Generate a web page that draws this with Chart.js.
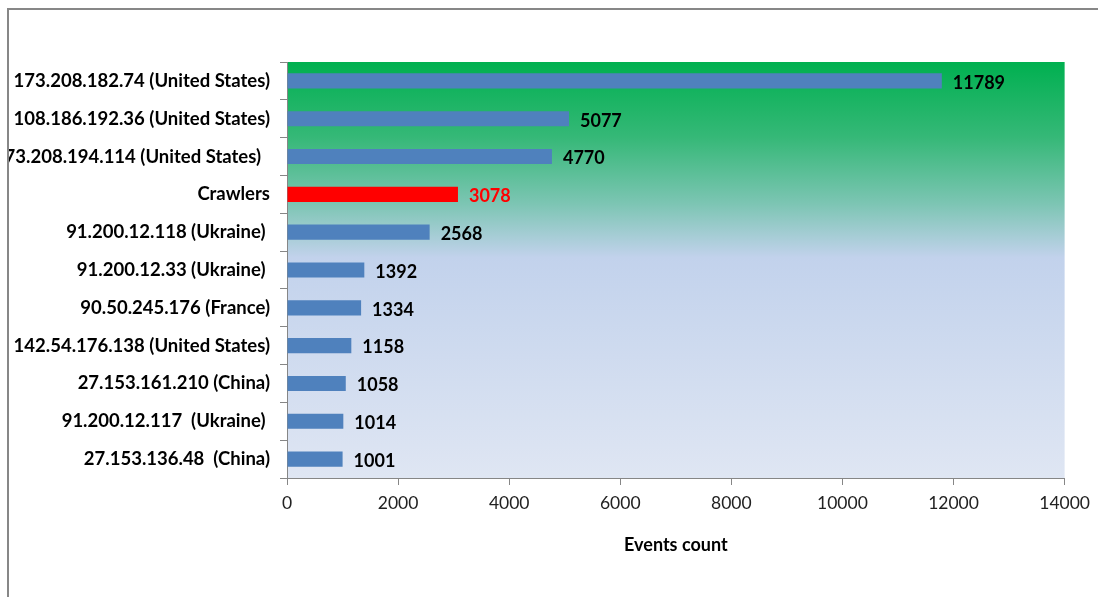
<!DOCTYPE html>
<html>
<head>
<meta charset="utf-8">
<script src="https://cdn.jsdelivr.net/npm/chart.js@4"></script>
<style>
  html, body { margin: 0; padding: 0; background: #fff; overflow: hidden; }
  #frame { position: absolute; left: 7px; top: 8px; width: 1200px; height: 700px;
           border-top: 2px solid #878787; border-left: 2px solid #878787; }
  #wrap { position: absolute; left: 9px; top: 11px; width: 1089px; height: 586px; }
</style>
</head>
<body>
<div id="frame"></div>
<div id="wrap"><canvas id="chart"></canvas></div>
<script>
const categories = [
  "173.208.182.74 (United States)",
  "108.186.192.36 (United States)",
  "173.208.194.114 (United States)  ",
  "Crawlers",
  "91.200.12.118 (Ukraine) ",
  "91.200.12.33 (Ukraine) ",
  "90.50.245.176 (France)",
  "142.54.176.138 (United States)",
  "27.153.161.210 (China)",
  "91.200.12.117  (Ukraine) ",
  "27.153.136.48  (China)"
];
const eventCounts = [11789, 5077, 4770, 3078, 2568, 1392, 1334, 1158, 1058, 1014, 1001];
const barColors = ["#4f81bd", "#4f81bd", "#4f81bd", "#ff0000", "#4f81bd", "#4f81bd",
                   "#4f81bd", "#4f81bd", "#4f81bd", "#4f81bd", "#4f81bd"];
const labelColors = ["#000", "#000", "#000", "#ff0000", "#000", "#000",
                     "#000", "#000", "#000", "#000", "#000"];

// gradient fill behind the plot area
const bgPlugin = {
  id: "bg",
  beforeDraw(chart) {
    const { ctx, chartArea: a } = chart;
    const g = ctx.createLinearGradient(0, a.top, 0, a.bottom);
    g.addColorStop(0, "#00b050");
    g.addColorStop(0.18, "#35b877");
    g.addColorStop(0.34, "#7cc5b3");
    g.addColorStop(0.47, "#c2d2ec");
    g.addColorStop(1, "#dfe6f3");
    ctx.save();
    ctx.fillStyle = g;
    ctx.fillRect(a.left, a.top, a.right - a.left, a.bottom - a.top);
    ctx.restore();
  }
};

// value labels at the end of each bar
const valuePlugin = {
  id: "values",
  afterDatasetsDraw(chart) {
    const ctx = chart.ctx;
    const meta = chart.getDatasetMeta(0);
    ctx.save();
    ctx.font = "bold 18px Lato";
    ctx.textBaseline = "middle";
    ctx.textAlign = "left";
    meta.data.forEach((bar, i) => {
      ctx.fillStyle = labelColors[i];
      ctx.fillText(eventCounts[i], bar.x + 11, bar.y + 2);
    });
    ctx.restore();
  }
};

new Chart(document.getElementById("chart"), {
  type: "bar",
  data: {
    labels: categories,
    datasets: [{
      data: eventCounts,
      backgroundColor: barColors,
      borderWidth: 0,
      barPercentage: 0.4,
      categoryPercentage: 1
    }]
  },
  options: {
    indexAxis: "y",
    responsive: true,
    maintainAspectRatio: false,
    animation: false,
    layout: { padding: { top: 51, right: 33, left: 0, bottom: 0 } },
    plugins: { legend: { display: false }, tooltip: { enabled: false } },
    scales: {
      x: {
        min: 0,
        max: 14000,
        afterFit: s => { s.height = 119; },
        border: { color: "#868686", width: 1 },
        grid: { drawOnChartArea: false, tickLength: 7, color: "#868686" },
        ticks: { stepSize: 2000, color: "#222", padding: 8,
                 callback: v => String(v),
                 font: { family: "Lato", size: 17.5 } },
        title: { display: true, text: "Events count", color: "#000",
                 font: { family: "Lato", size: 18, weight: "bold" },
                 padding: { top: 0, bottom: 41 } }
      },
      y: {
        afterFit: s => { s.width = 278; },
        border: { color: "#868686", width: 1 },
        grid: { drawOnChartArea: false, tickLength: 7, color: "#868686", offset: true },
        ticks: { color: "#000", padding: 10, autoSkip: false,
                 font: { family: "Lato", size: 18.5, weight: "bold" } }
      }
    }
  },
  plugins: [bgPlugin, valuePlugin]
});
</script>
</body>
</html>
